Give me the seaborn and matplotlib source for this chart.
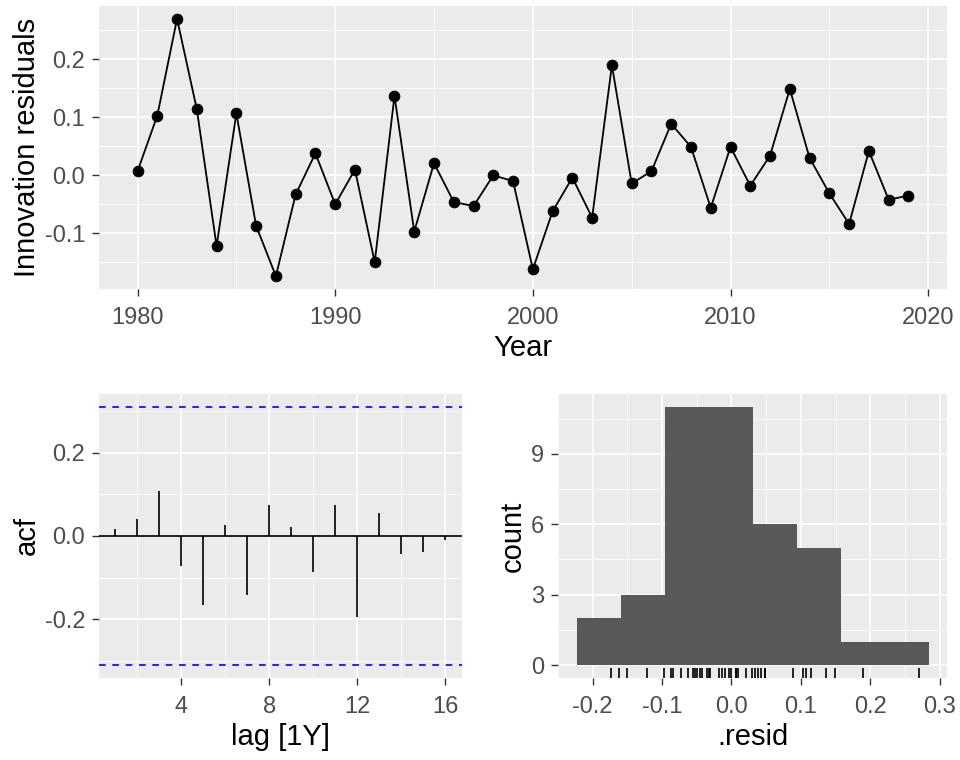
import numpy as np
import pandas as pd
import matplotlib
matplotlib.use("Agg")
import matplotlib.pyplot as plt
import seaborn as sns

# residuals, 1980-2019
years = list(range(1980, 2020))
resid = [0.007, 0.103, 0.270, 0.114, -0.122, 0.107, -0.087, -0.174, -0.033, 0.038,
         -0.050, 0.010, -0.150, 0.137, -0.097, 0.021, -0.046, -0.053, 0.000, -0.010,
         -0.162, -0.062, -0.004, -0.073, 0.190, -0.014, 0.007, 0.089, 0.049, -0.056,
         0.049, -0.018, 0.034, 0.149, 0.030, -0.031, -0.084, 0.042, -0.042, -0.035]

# acf values by lag
lags = list(range(1, 17))
acf_vals = [0.016, 0.040, 0.109, -0.073, -0.165, 0.026, -0.141, 0.075,
            0.021, -0.087, 0.075, -0.195, 0.055, -0.043, -0.039, -0.010]

df = pd.DataFrame({"Year": years, "resid": resid})
acf_df = pd.DataFrame({"lag": lags, "acf": acf_vals})

sns.set_theme(style="darkgrid", rc={
    "axes.facecolor": "#EBEBEB",
    "grid.color": "white",
    "axes.edgecolor": "#EBEBEB",
    "xtick.color": "#333333",
    "ytick.color": "#333333",
    "xtick.labelcolor": "#4D4D4D",
    "ytick.labelcolor": "#4D4D4D",
    "xtick.bottom": True,
    "ytick.left": True,
    "xtick.major.size": 5.3,
    "ytick.major.size": 5.3,
    "xtick.major.width": 1.0,
    "ytick.major.width": 1.0,
    "xtick.major.pad": 7.5,
    "ytick.major.pad": 4.5,
    "xtick.labelsize": 17,
    "ytick.labelsize": 17,
    "axes.labelsize": 21,
    "axes.labelcolor": "black",
})
plt.rcParams["font.family"] = ["Liberation Sans", "DejaVu Sans"]

fig = plt.figure(figsize=(9.6, 7.6), dpi=100)
ax1 = fig.add_axes([0.1031, 0.6197, 0.8833, 0.3724])
ax2 = fig.add_axes([0.1031, 0.1079, 0.3781, 0.3737])
ax3 = fig.add_axes([0.5813, 0.1079, 0.4052, 0.3737])


def gg_grid(ax):
    ax.grid(which="major", color="white", linewidth=1.1)
    ax.grid(which="minor", color="white", linewidth=0.55)
    ax.tick_params(which="minor", length=0)
    for s in ax.spines.values():
        s.set_visible(False)
    ax.set_axisbelow(True)


def expand(lo, hi, m=0.05):
    pad = (hi - lo) * m
    return lo - pad, hi + pad


# top: residual time series
sns.lineplot(data=df, x="Year", y="resid", color="black", linewidth=1.3, ax=ax1)
sns.scatterplot(data=df, x="Year", y="resid", color="black", s=60, edgecolor="black", ax=ax1, zorder=3)
ax1.set_xlim(*expand(min(years), max(years)))
ax1.set_ylim(*expand(min(resid), max(resid)))
ax1.set_xticks([1980, 1990, 2000, 2010, 2020])
ax1.set_xticks([1985, 1995, 2005, 2015], minor=True)
ax1.set_yticks([-0.1, 0.0, 0.1, 0.2])
ax1.set_yticks([-0.15, -0.05, 0.05, 0.15, 0.25], minor=True)
ax1.set_yticklabels(["-0.1", "0.0", "0.1", "0.2"])
ax1.set_xlabel("Year", labelpad=4)
ax1.set_ylabel("Innovation residuals", labelpad=3)
gg_grid(ax1)

# bottom left: acf
ci = 1.96 / np.sqrt(len(resid))
ax2.vlines(acf_df["lag"], 0, acf_df["acf"], color="black", linewidth=1.2)
ax2.axhline(0, color="black", linewidth=1.2)
ax2.axhline(ci, color="blue", linestyle=(0, (4, 4)), linewidth=1.2)
ax2.axhline(-ci, color="blue", linestyle=(0, (4, 4)), linewidth=1.2)
ax2.set_xlim(*expand(1, 16))
ax2.set_ylim(*expand(-ci, ci))
ax2.set_xticks([4, 8, 12, 16])
ax2.set_xticks([2, 6, 10, 14], minor=True)
ax2.set_yticks([-0.2, 0.0, 0.2])
ax2.set_yticks([-0.3, -0.1, 0.1, 0.3], minor=True)
ax2.set_yticklabels(["-0.2", "0.0", "0.2"])
ax2.set_xlabel("lag [1Y]", labelpad=4)
ax2.set_ylabel("acf", labelpad=3)
gg_grid(ax2)

# bottom right: histogram with rug (ggplot-style 8 bins)
lo, hi = min(resid), max(resid)
width = (hi - lo) / 7
boundary = width / 2
origin = boundary + np.floor((lo - boundary) / width) * width
edges = origin + width * np.arange(9)
sns.histplot(x=resid, bins=edges, color="#595959", alpha=1, edgecolor="none", ax=ax3)
sns.rugplot(x=resid, height=0.035, color="black", linewidth=1.2, ax=ax3)
ax3.set_xlim(*expand(edges[0], edges[-1]))
ax3.set_ylim(*expand(0, 11))
ax3.set_xticks([-0.2, -0.1, 0.0, 0.1, 0.2, 0.3])
ax3.set_xticklabels(["-0.2", "-0.1", "0.0", "0.1", "0.2", "0.3"])
ax3.set_xticks([-0.25, -0.15, -0.05, 0.05, 0.15, 0.25], minor=True)
ax3.set_yticks([0, 3, 6, 9])
ax3.set_yticks([1.5, 4.5, 7.5, 10.5], minor=True)
ax3.set_xlabel(".resid", labelpad=4)
ax3.set_ylabel("count", labelpad=3)
gg_grid(ax3)

fig.savefig("out.png", dpi=100)
